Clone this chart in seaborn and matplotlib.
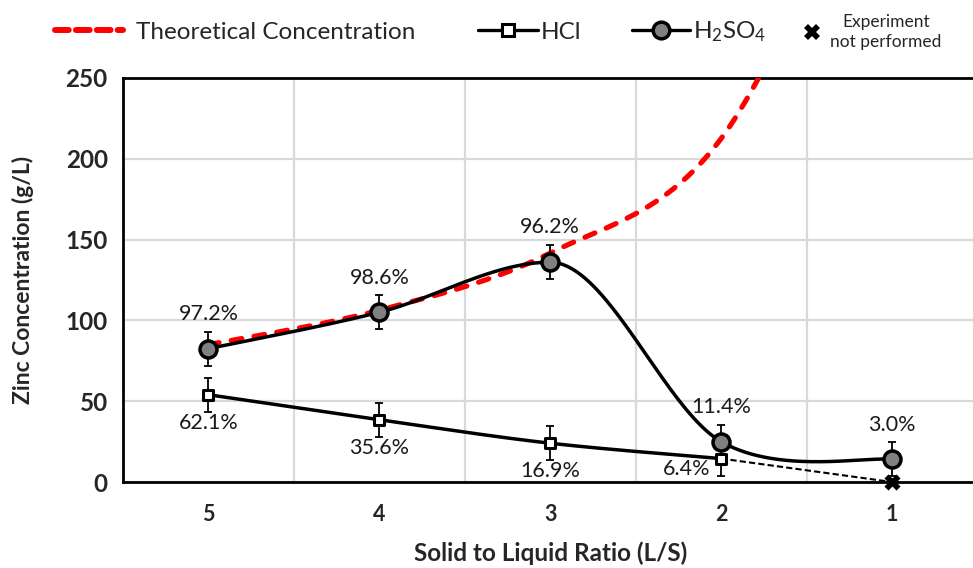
import numpy as np
import pandas as pd
import matplotlib
matplotlib.use("Agg")
import matplotlib.pyplot as plt
import seaborn as sns
from matplotlib.lines import Line2D

# ---------------- data ----------------
ratios = [5, 4, 3, 2, 1]
theoretical = [85.0, 106.25, 141.67, 212.5, 425.0]
h2so4 = [82.5, 105.0, 136.0, 25.0, 14.0]
h2so4_err = [10.5, 10.5, 10.5, 10.5, 10.5]
h2so4_pct = ["97.2%", "98.6%", "96.2%", "11.4%", "3.0%"]
hcl_ratios = [5, 4, 3, 2]
hcl = [54.0, 38.5, 24.0, 14.5]
hcl_err = [10.5, 10.5, 10.5, 10.5]
hcl_pct = ["62.1%", "35.6%", "16.9%", "6.4%"]
np_ratio = [1]
np_value = [0.0]
yticks = [0, 50, 100, 150, 200, 250]
xtick_labels = ["5", "4", "3", "2", "1"]

sns.set_theme(style="white")
FONT = ["Lato", "DejaVu Sans"]
plt.rcParams["font.family"] = FONT
plt.rcParams["mathtext.fontset"] = "custom"
plt.rcParams["mathtext.rm"] = "Lato"
plt.rcParams["mathtext.default"] = "regular"


def smooth(xs, ys, n=80):
    """Excel-like smoothed line: Catmull-Rom Bezier, flat tangent at local extrema."""
    P = np.column_stack([np.asarray(xs, float), np.asarray(ys, float)])
    m = len(P)
    T = np.zeros_like(P)
    for i in range(m):
        if i == 0:
            T[i] = P[1] - P[0]
        elif i == m - 1:
            T[i] = P[i] - P[i - 1]
        else:
            T[i] = P[i + 1] - P[i - 1]
            if (P[i, 1] - P[i - 1, 1]) * (P[i + 1, 1] - P[i, 1]) < 0:
                T[i, 1] = 0.0
    out = []
    t = np.linspace(0, 1, n)[:, None]
    for i in range(m - 1):
        p1, p2 = P[i], P[i + 1]
        c1 = p1 + T[i] / 6.0
        c2 = p2 - T[i + 1] / 6.0
        seg = (1 - t) ** 3 * p1 + 3 * (1 - t) ** 2 * t * c1 + 3 * (1 - t) * t ** 2 * c2 + t ** 3 * p2
        out.append(seg if i == 0 else seg[1:])
    out = np.vstack(out)
    return out[:, 0], out[:, 1]


fig = plt.figure(figsize=(9.73, 5.68), dpi=100)
ax = fig.add_axes([0.1264, 0.1514, 0.8782, 0.7113])

# theoretical
tx, ty = smooth(ratios, theoretical)
sns.lineplot(x=tx, y=ty, sort=False, estimator=None, ax=ax, color="#ff0000",
             lw=3.7, zorder=3)
ax.lines[-1].set_dashes([2.1, 2.4])
ax.lines[-1].set_dash_capstyle("round")

# H2SO4 smooth line
hx, hy = smooth(ratios, h2so4)
sns.lineplot(x=hx, y=hy, sort=False, estimator=None, ax=ax, color="black",
             lw=2.5, zorder=4)

# HCl smooth line
cx, cy = smooth(hcl_ratios, hcl)
sns.lineplot(x=cx, y=cy, sort=False, estimator=None, ax=ax, color="black",
             lw=2.5, zorder=4)

# dashed link to "not performed"
sns.lineplot(x=[hcl_ratios[-1], np_ratio[0]], y=[hcl[-1], np_value[0]], sort=False,
             estimator=None, ax=ax, color="black", lw=1.5, zorder=4)
ax.lines[-1].set_linestyle((0, (3, 1.5)))

# error bars
ax.errorbar(ratios, h2so4, yerr=h2so4_err, fmt="none", ecolor="black",
            elinewidth=1.3, capsize=3.2, capthick=1.3, zorder=5)
ax.errorbar(hcl_ratios, hcl, yerr=hcl_err, fmt="none", ecolor="black",
            elinewidth=1.3, capsize=3.2, capthick=1.3, zorder=5)

# markers
sns.scatterplot(x=ratios, y=h2so4, ax=ax, marker="o", s=150, color="#808080",
                edgecolor="black", linewidth=2.5, zorder=6)
sns.scatterplot(x=hcl_ratios, y=hcl, ax=ax, marker="s", s=60, color="white",
                edgecolor="black", linewidth=2.2, zorder=6)
sns.scatterplot(x=np_ratio, y=np_value, ax=ax, marker="X", s=135, color="black",
                linewidth=0, zorder=7, clip_on=False)

# percentage labels
for x, y, t in zip(ratios, h2so4, h2so4_pct):
    ax.annotate(t, (x, y), xytext=(0, 25), textcoords="offset points",
                ha="center", va="center", fontsize=15.5, color="#1a1a1a", zorder=8)
for i, (x, y, t) in enumerate(zip(hcl_ratios, hcl, hcl_pct)):
    off = (0, -20) if i < 3 else (-25, -7.5)
    ax.annotate(t, (x, y), xytext=off, textcoords="offset points",
                ha="center", va="center", fontsize=15.5, color="#1a1a1a", zorder=8)

# axes
ax.set_xlim(5.5, 0.5)
ax.set_ylim(0, 250)
ax.set_xticks(ratios)
ax.set_xticklabels(xtick_labels, fontsize=15.5, fontweight="bold")
ax.set_xticks([4.5, 3.5, 2.5, 1.5], minor=True)
ax.set_yticks(yticks)
ax.set_yticklabels([str(v) for v in yticks], fontsize=17.5, fontweight="bold")
ax.tick_params(axis="x", which="both", length=0, pad=16)
ax.tick_params(axis="y", length=0, pad=11)
ax.grid(False)
ax.grid(axis="y", which="major", color="#d9d9d9", lw=1.6)
ax.grid(axis="x", which="minor", color="#d9d9d9", lw=1.6)
ax.set_axisbelow(True)
for s in ["left", "bottom", "top"]:
    ax.spines[s].set_color("black")
    ax.spines[s].set_linewidth(2.0)
ax.spines["right"].set_visible(False)

ax.set_xlabel("Solid to Liquid Ratio (L/S)", fontsize=17.5, fontweight="bold", va="top")
ax.xaxis.set_label_coords(0.5, -0.148)
ax.set_ylabel("Zinc Concentration (g/L)", fontsize=16.5, fontweight="bold")
ax.yaxis.set_label_coords(-0.104, 0.5)

# legend (one entry per legend box, placed like the original)
ycen = 1 - 32 / 568
entries = [
    (Line2D([], [], color="#ff0000", lw=4.3, dashes=[2.3, 1.2], dash_capstyle="round"),
     "Theoretical Concentration", 55, 2.8, 0.55),
    (Line2D([], [], color="black", lw=2.4, marker="s", markersize=8,
            markerfacecolor="white", markeredgecolor="black", markeredgewidth=2.2),
     "HCl", 478, 2.45, 0.12),
    (Line2D([], [], color="black", lw=2.4, marker="o", markersize=12,
            markerfacecolor="#808080", markeredgecolor="black", markeredgewidth=2.5),
     "H$_2$SO$_4$", 632, 2.4, 0.12),
]
for h, lab, xpix, hl, tp in entries:
    fig.legend([h], [lab], loc="center left", bbox_to_anchor=(xpix / 973, ycen),
               frameon=False, fontsize=17.5, handlelength=hl, handletextpad=tp,
               borderpad=0, borderaxespad=0)
leg = fig.legend([Line2D([], [], ls="none", marker="X", markersize=12, color="black",
                         markeredgewidth=0)],
                 ["Experiment\nnot performed"], loc="center left",
                 bbox_to_anchor=(805 / 973, ycen), frameon=False, fontsize=12.5,
                 handlelength=0.85, handletextpad=0.6, borderpad=0, borderaxespad=0)
for t in leg.get_texts():
    t.set_multialignment("center")
    t.set_linespacing(1.3)

fig.savefig("out.png", dpi=100)
